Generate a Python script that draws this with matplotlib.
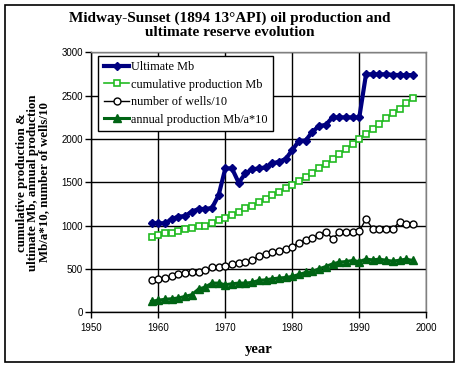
import matplotlib
matplotlib.use('Agg')
import matplotlib.pyplot as plt
from matplotlib.patches import Rectangle

years = list(range(1959, 1999))

# ultimate reserve, Mb
ultimate = [1030, 1027, 1027, 1074, 1105, 1109, 1163, 1190, 1194, 1202,
            1350, 1660, 1660, 1495, 1603, 1649, 1660, 1672, 1718, 1737,
            1768, 1872, 1978, 1982, 2083, 2150, 2162, 2249, 2249, 2249,
            2249, 2249, 2746, 2746, 2746, 2746, 2740, 2737, 2737, 2737]

# cumulative production, Mb
cumulative = [873, 896, 912, 919, 942, 958, 977, 996, 1000, 1034,
              1065, 1086, 1128, 1155, 1205, 1225, 1270, 1312, 1355, 1388,
              1430, 1473, 1516, 1562, 1609, 1660, 1707, 1765, 1822, 1880,
              1940, 2000, 2054, 2119, 2177, 2238, 2296, 2350, 2419, 2477]

# number of wells / 10
wells = [368, 383, 395, 414, 437, 448, 460, 460, 487, 517,
         517, 529, 556, 567, 575, 605, 644, 667, 701, 713,
         736, 759, 805, 835, 858, 893, 931, 849, 923, 927,
         931, 938, 1076, 964, 964, 964, 964, 1041, 1022, 1022]

# annual production Mb/a * 10
annual = [126, 140, 150, 157, 165, 184, 203, 268, 291, 337,
          337, 318, 330, 337, 337, 345, 368, 375, 387, 395,
          402, 414, 437, 460, 471, 502, 528, 559, 578, 586,
          598, 586, 613, 605, 613, 601, 590, 601, 613, 598]

serif = ['Liberation Serif', 'DejaVu Serif']
sans = ['Liberation Sans', 'DejaVu Sans']

fig = plt.figure(figsize=(4.6, 3.67), dpi=100)
ax = fig.add_axes([91.3 / 460, 1 - 312.3 / 367, 335 / 460, 260 / 367])

ax.plot(years, ultimate, color='#000080', lw=3.0, marker='D', ms=3.8,
        mec='#000080', label='Ultimate Mb', zorder=5)
ax.plot(years, cumulative, color='#22BB22', lw=1.2, marker='s', ms=5,
        mfc='white', mec='#22BB22', mew=1.2, label='cumulative production Mb', zorder=4)
ax.plot(years, wells, color='black', lw=1.0, marker='o', ms=5,
        mfc='white', mec='black', mew=1.0, label='number of wells/10', zorder=4)
ax.plot(years, annual, color='#006414', lw=2.2, marker='^', ms=5.5,
        mec='#006414', label='annual production Mb/a*10', zorder=4)

ax.set_xlim(1950, 2000)
ax.set_ylim(0, 3000)
ax.set_xticks(range(1950, 2001, 10))
ax.set_yticks(range(0, 3001, 500))
ax.grid(True, color='black', lw=1.0)
ax.set_axisbelow(True)

ax.spines['top'].set_color('#808080')
ax.spines['right'].set_color('#808080')
ax.spines['left'].set_color('black')
ax.spines['bottom'].set_color('black')
for s in ax.spines.values():
    s.set_linewidth(1.0)

ax.tick_params(axis='both', direction='out', length=4, width=1,
               labelsize=7, pad=2)
for lab in ax.get_xticklabels() + ax.get_yticklabels():
    lab.set_family(sans)
ax.tick_params(axis='x', pad=4)

ax.set_xlabel('year', family=serif, fontweight='bold', fontsize=10.5, labelpad=7)
ax.set_ylabel('cumulative production &\nultimate Mb, annual production\nMb/a*10, number of wells/10',
              family=serif, fontweight='bold', fontsize=9.3, linespacing=0.9)
ax.yaxis.set_label_coords(-0.123, 0.5)

fig.text(0.5, 1 - 25.5 / 367, 'Midway-Sunset (1894 13°API) oil production and\nultimate reserve evolution',
         ha='center', va='center', family=serif, fontweight='bold', fontsize=11,
         linespacing=1.05)

leg = ax.legend(loc='upper left', bbox_to_anchor=(98.3 / 460, 1 - 55.7 / 367),
                bbox_transform=fig.transFigure, borderaxespad=0,
                prop={'family': serif, 'size': 8.8}, frameon=True, fancybox=False,
                edgecolor='black', framealpha=1, handlelength=2.1,
                handletextpad=0.1, labelspacing=0.45, borderpad=0.45)
leg.get_frame().set_linewidth(1.0)
leg.set_zorder(10)

fig.patches.append(Rectangle((4.5 / 460, 1 - 362 / 367), 449.5 / 460, 357.5 / 367,
                             transform=fig.transFigure, fill=False,
                             edgecolor='black', lw=1.2))

fig.savefig('out.png', dpi=100)
